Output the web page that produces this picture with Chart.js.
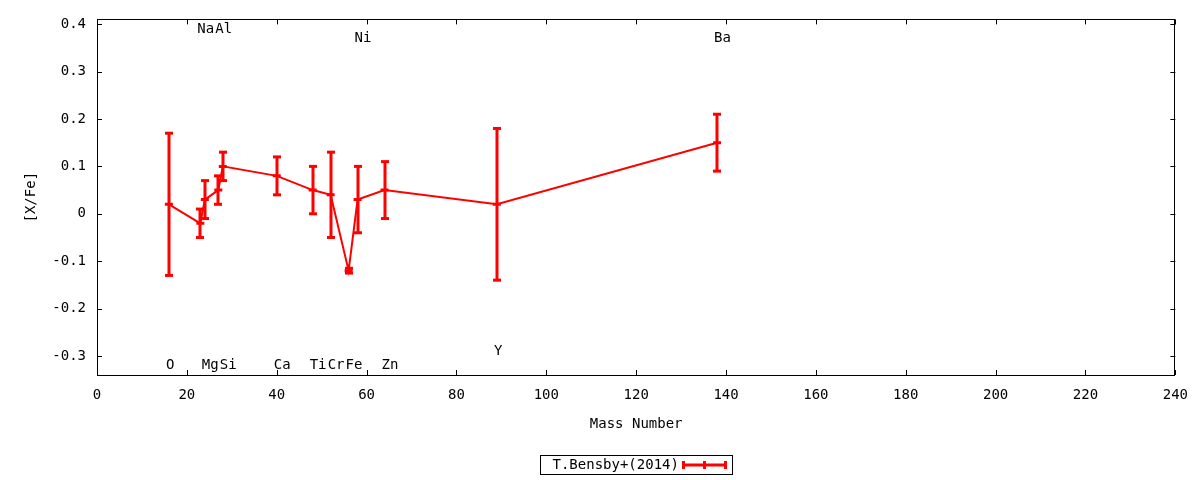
<!DOCTYPE html>
<html>
<head>
<meta charset="utf-8">
<script src="https://cdn.jsdelivr.net/npm/chart.js@4/dist/chart.umd.min.js"></script>
<style>
  html, body { margin: 0; padding: 0; background: #fff; }
  #wrap { width: 1200px; height: 480px; }
</style>
</head>
<body>
<div id="wrap"><canvas id="abund"></canvas></div>
<script>
// [X/Fe] vs mass number, T.Bensby+(2014)
const elements   = ['O', 'Na', 'Mg', 'Al', 'Si', 'Ca', 'Ti', 'Cr', 'Fe', 'Ni', 'Zn', 'Y', 'Ba'];
const massNumber = [16, 23, 24, 27, 28, 40, 48, 52, 56, 58, 64, 89, 138];
const xFe        = [0.02, -0.02, 0.03, 0.05, 0.10, 0.08, 0.05, 0.04, -0.12, 0.03, 0.05, 0.02, 0.15];
const xFeErr     = [0.15, 0.03, 0.04, 0.03, 0.03, 0.04, 0.05, 0.09, 0.005, 0.07, 0.06, 0.16, 0.06];

// element name labels (data coords)
const labelX = [16, 23, 24, 27, 28, 40, 48, 52, 56, 58, 64, 89, 138];
const labelY = [-0.32, 0.39, -0.32, 0.39, -0.32, -0.32, -0.32, -0.32, -0.32, 0.37, -0.32, -0.29, 0.37];

const yTicks = [-0.3, -0.2, -0.1, 0, 0.1, 0.2, 0.3, 0.4];
const seriesName = 'T.Bensby+(2014)';

const RED  = '#ff0000';
const FONT = "'DejaVu Sans Mono', monospace";
const FSIZE = 14;

Chart.defaults.font.family = FONT;
Chart.defaults.font.size = FSIZE;
Chart.defaults.color = '#000';

const gnuplotBits = {
  id: 'gnuplotBits',
  beforeDatasetsDraw(chart) {
    const { ctx, chartArea: a, scales: { x, y } } = chart;
    ctx.save();
    // frame
    ctx.strokeStyle = '#000';
    ctx.lineWidth = 1;
    ctx.strokeRect(Math.round(a.left) + 0.5, Math.round(a.top) + 0.5,
                   Math.round(a.right - a.left) - 1, Math.round(a.bottom - a.top));
    // inward ticks, mirrored
    const tl = 5;
    ctx.beginPath();
    x.ticks.forEach(t => {
      const px = Math.round(x.getPixelForValue(t.value)) + 0.5;
      ctx.moveTo(px, a.bottom); ctx.lineTo(px, a.bottom - tl);
      ctx.moveTo(px, a.top);    ctx.lineTo(px, a.top + tl);
    });
    y.ticks.forEach(t => {
      const py = Math.round(y.getPixelForValue(t.value)) + 0.5;
      ctx.moveTo(a.left, py);  ctx.lineTo(a.left + tl, py);
      ctx.moveTo(a.right, py); ctx.lineTo(a.right - tl, py);
    });
    ctx.stroke();

    // element labels
    ctx.fillStyle = '#000';
    ctx.font = FSIZE + 'px ' + FONT;
    ctx.textAlign = 'left';
    ctx.textBaseline = 'middle';
    elements.forEach((el, i) => {
      ctx.fillText(el, x.getPixelForValue(labelX[i]) - 3, y.getPixelForValue(labelY[i]));
    });
    ctx.restore();
  },
  afterDatasetsDraw(chart) {
    const { ctx, chartArea: a, scales: { x, y } } = chart;
    ctx.save();
    ctx.fillStyle = RED;
    // error bars
    massNumber.forEach((m, i) => {
      const px = Math.round(x.getPixelForValue(m));
      const top = y.getPixelForValue(xFe[i] + xFeErr[i]);
      const bot = y.getPixelForValue(xFe[i] - xFeErr[i]);
      ctx.fillRect(px - 1.5, top, 3, bot - top);
      ctx.fillRect(px - 4, top - 1.5, 8, 3);
      ctx.fillRect(px - 4, bot - 1.5, 8, 3);
    });

    // legend box
    const cx = (a.left + a.right) / 2;
    const bx = Math.round(cx - 96) + 0.5, by = 455.5, bw = 192, bh = 19;
    ctx.strokeStyle = '#000';
    ctx.lineWidth = 1;
    ctx.strokeRect(bx, by, bw, bh);
    ctx.fillStyle = '#000';
    ctx.font = FSIZE + 'px ' + FONT;
    ctx.textAlign = 'left';
    ctx.textBaseline = 'middle';
    ctx.fillText(seriesName, bx + 12, by + bh / 2 + 0.5);
    const sy = by + bh / 2, sx0 = bx + 143, sx1 = bx + 185;
    ctx.fillStyle = RED;
    ctx.fillRect(sx0, sy - 1.5, sx1 - sx0, 3);
    [sx0, (sx0 + sx1) / 2, sx1].forEach(sx => ctx.fillRect(sx - 1.5, sy - 4, 3, 8));
    ctx.restore();
  }
};

new Chart(document.getElementById('abund'), {
  type: 'line',
  data: {
    datasets: [{
      label: seriesName,
      data: massNumber.map((m, i) => ({ x: m, y: xFe[i] })),
      borderColor: RED,
      backgroundColor: RED,
      borderWidth: 2,
      tension: 0,
      pointStyle: 'line',
      pointRadius: 4,
      pointBorderWidth: 3,
      pointBorderColor: RED,
      pointHoverRadius: 4
    }]
  },
  options: {
    responsive: true,
    maintainAspectRatio: false,
    animation: false,
    events: [],
    layout: { padding: { top: 17, right: 23, bottom: 47, left: 0 } },
    plugins: { legend: { display: false }, tooltip: { enabled: false } },
    scales: {
      x: {
        type: 'linear',
        min: 0, max: 240,
        border: { display: false },
        grid: { display: false, drawTicks: false },
        ticks: { stepSize: 20, padding: 12, color: '#000', maxRotation: 0 },
        title: { display: true, text: 'Mass Number', color: '#000', padding: { top: 0, bottom: 0 } },
        afterFit(s) { s.height = 58; }
      },
      y: {
        type: 'linear',
        min: -0.34, max: 0.41,
        border: { display: false },
        grid: { display: false, drawTicks: false },
        afterBuildTicks(s) { s.ticks = yTicks.map(v => ({ value: v })); },
        ticks: {
          padding: 11, color: '#000',
          callback: v => String(Math.round(v * 10) / 10)
        },
        title: { display: true, text: '[X/Fe]', color: '#000', padding: { top: 23, bottom: 0 } },
        afterFit(s) { s.width = 97; }
      }
    }
  },
  plugins: [gnuplotBits]
});
</script>
</body>
</html>
